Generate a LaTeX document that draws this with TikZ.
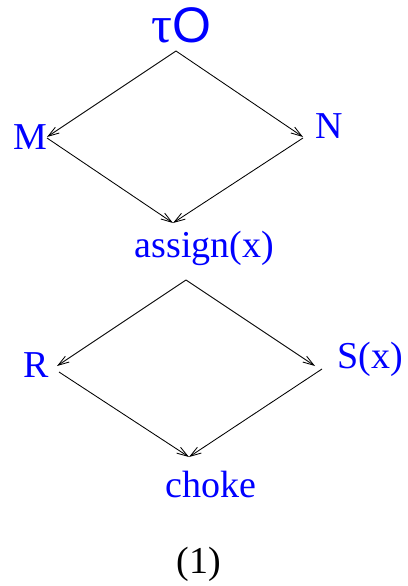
\documentclass[tikz,border=0pt]{standalone}
\usepackage{fontspec}
\setmainfont{Liberation Serif}
\newfontfamily\osans{Liberation Sans}
\usetikzlibrary{arrows.meta}
\definecolor{lblue}{RGB}{0,0,255}
\begin{document}
\begin{tikzpicture}[x=1pt,y=-1pt,
  lbl/.style={anchor=base,inner sep=0pt,text=lblue,font=\fontsize{38}{40}\selectfont},
  edge/.style={line width=0.85pt,-{Straight Barb[length=11pt,width=7pt,line width=0.85pt]}}]
\useasboundingbox (0,0) rectangle (407,586);
% labels
\node[lbl] (tau) at (181,43) {{\fontsize{52}{54}\selectfont τ}{\osans\fontsize{50}{52}\selectfont O}};
\node[lbl] (M) at (30,149) {M};
\node[lbl] (N) at (329,138) {N};
\node[lbl] (assign) at (204.5,257) {assign(x)};
\node[lbl] (R) at (36.5,377) {R};
\node[lbl] (S) at (370,368) {S(x)};
\node[lbl] (choke) at (211,497) {choke};
\node[lbl,text=black] (one) at (198.5,573) {(1)};
% connection points
\coordinate (t1) at (176,51);
\coordinate (min) at (47,137);
\coordinate (mout) at (47,138);
\coordinate (nin) at (303,137);
\coordinate (nout) at (303,138);
\coordinate (b1) at (173,223);
\coordinate (t2) at (186,280);
\coordinate (rin) at (57,366);
\coordinate (rout) at (59,372);
\coordinate (sin) at (315,366);
\coordinate (sout) at (322,369);
\coordinate (b2) at (189,457);
% connectors
\draw[edge] (t1) -- (min);
\draw[edge] (t1) -- (nin);
\draw[edge] (mout) -- (b1);
\draw[edge] (nout) -- (b1);
\draw[edge] (t2) -- (rin);
\draw[edge] (t2) -- (sin);
\draw[edge] (rout) -- (b2);
\draw[edge] (sout) -- (b2);
\end{tikzpicture}
\end{document}
